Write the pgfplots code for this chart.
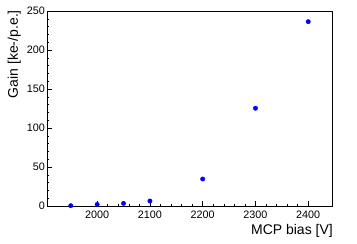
\documentclass[border=0pt]{standalone}
\usepackage{fontspec}
\setmainfont{Liberation Sans}
\usepackage{pgfplots}
\pgfplotsset{compat=1.18}
\begin{document}
\begin{tikzpicture}
\useasboundingbox (-47pt,-38pt) rectangle (310pt,206pt);
\begin{axis}[
  at={(0pt,0pt)}, anchor=south west,
  scale only axis, width=285pt, height=195pt,
  xmin=1905, xmax=2445, ymin=0, ymax=250,
  clip=false,
  xtick={2000,2100,2200,2300,2400},
  ytick={0,50,100,150,200,250},
  minor x tick num=4, minor y tick num=4,
  tick align=inside, xtick pos=bottom, ytick pos=left,
  major tick length=5pt, minor tick length=2.5pt,
  tick style={black, line width=0.5pt},
  axis line style={black, line width=0.6pt},
  /pgf/number format/assume math mode=true,
  /pgf/number format/set thousands separator={},
  tick label style={font=\fontsize{10.8}{12}\selectfont},
  xticklabel style={anchor=north, inner sep=0pt, yshift=-5pt},
  yticklabel style={anchor=east, inner sep=0pt, xshift=-2pt},
]
\addplot[only marks, mark=*, mark size=2.2pt, color=blue, mark options={draw=blue, fill=blue}] coordinates {
(1950,0.4) (2000,2.0) (2050,3.4) (2100,6.4) (2200,34.6) (2300,125.3) (2400,236.3)
};
\node[anchor=base east, inner sep=0pt, font=\fontsize{14}{16}\selectfont] at ([xshift=1pt,yshift=-28pt]rel axis cs:1,0) {MCP bias [V]};
\node[rotate=90, anchor=base east, inner sep=0pt, font=\fontsize{14}{16}\selectfont] at ([xshift=-29pt,yshift=1pt]rel axis cs:0,1) {Gain [ke-/p.e.]};
\end{axis}
\end{tikzpicture}
\end{document}
